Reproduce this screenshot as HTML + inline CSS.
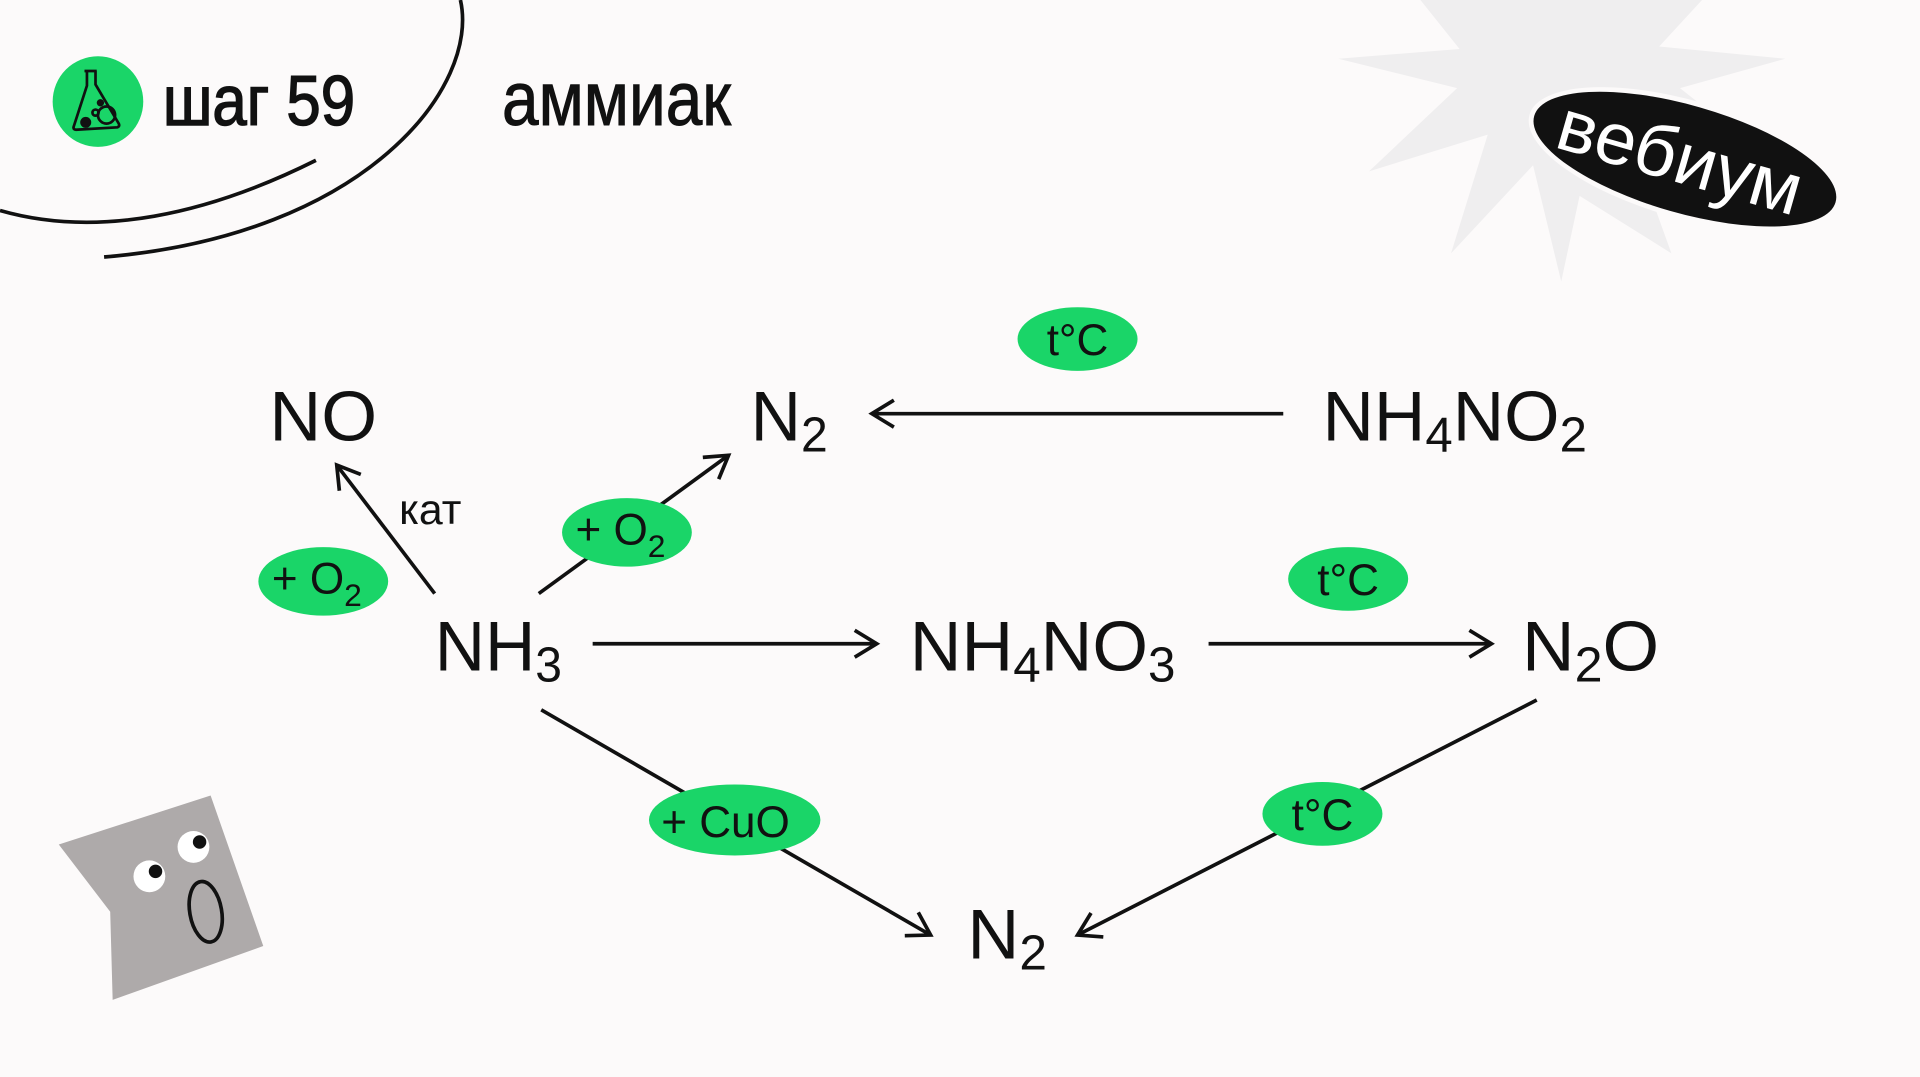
<!DOCTYPE html>
<html><head><meta charset="utf-8"><style>
html,body{margin:0;padding:0;background:#fcfafa;}
svg{display:block;}
text{font-family:"Liberation Sans",sans-serif;fill:#111;}
</style></head><body>
<svg width="1920" height="1077" viewBox="0 0 1568 880" preserveAspectRatio="none" xmlns="http://www.w3.org/2000/svg">
<defs>
<marker id="ah" markerUnits="userSpaceOnUse" viewBox="-22 -14 26 28" refX="0" refY="0" markerWidth="26" markerHeight="28" orient="auto">
<path d="M-18,-11 L0,0 L-18,11" fill="none" stroke="#111" stroke-width="3" stroke-linejoin="miter"/>
</marker>
</defs>
<rect width="1568" height="880" fill="#fcfafa"/>

<!-- star burst -->
<polygon fill="#efeeef" points="1160,0 1192,40 1093,48 1190,72 1118,140 1215,110 1185,207 1252,135 1275,230 1290,160 1365,207 1330,110 1458,140 1372,72 1458,48 1355,38 1390,0"/>

<!-- badge -->
<g transform="rotate(16 1376 130)">
<ellipse cx="1376" cy="130" rx="132" ry="48" fill="#fcfafa"/>
<ellipse cx="1376" cy="130" rx="128" ry="44" fill="#111"/>
<text x="1372" y="150" text-anchor="middle" font-size="60" style="fill:#fff" textLength="205" lengthAdjust="spacingAndGlyphs">вебиум</text>
</g>

<!-- arcs -->
<path d="M376,0 C392,70 300,192 85,210" fill="none" stroke="#111" stroke-width="3"/>
<path d="M0,172 C80,195 170,175 258,131" fill="none" stroke="#111" stroke-width="3"/>

<!-- logo -->
<circle cx="80" cy="83" r="37" fill="#1ad568"/>
<g fill="none" stroke="#111" stroke-width="2.2">
<path d="M69,58 L79,58 M71,58 L71,70 L60,104 Q60,106 62,106 L96,104 Q98,103 97,101 L78,69 L78,58"/>
<circle cx="87" cy="94" r="7"/>
<circle cx="78" cy="92" r="2.5"/>
</g>
<circle cx="70" cy="100" r="4.5" fill="#111"/>
<circle cx="82" cy="84" r="3" fill="#111"/>

<text x="133" y="102" font-size="58" stroke="#111" stroke-width="1.2" textLength="157" lengthAdjust="spacingAndGlyphs">шаг 59</text>
<text x="410" y="102" font-size="62" stroke="#111" stroke-width="0.8" textLength="187" lengthAdjust="spacingAndGlyphs">аммиак</text>

<!-- character -->
<polygon fill="#aeaaaa" points="48,690 172,650 215,773 92,817 90,745"/>
<circle cx="122" cy="716" r="13" fill="#fff"/>
<circle cx="127" cy="712" r="5.5" fill="#111"/>
<circle cx="158" cy="692" r="13" fill="#fff"/>
<circle cx="163" cy="688" r="5.5" fill="#111"/>
<ellipse cx="168" cy="745" rx="13" ry="25" transform="rotate(-10 168 745)" fill="none" stroke="#111" stroke-width="3"/>

<!-- arrows -->
<g stroke="#111" stroke-width="3" fill="none">
<line x1="1048" y1="338" x2="712" y2="338" marker-end="url(#ah)"/>
<line x1="355" y1="485" x2="275" y2="380" marker-end="url(#ah)"/>
<line x1="440" y1="485" x2="595" y2="372" marker-end="url(#ah)"/>
<line x1="484" y1="526" x2="716" y2="526" marker-end="url(#ah)"/>
<line x1="987" y1="526" x2="1218" y2="526" marker-end="url(#ah)"/>
<line x1="442" y1="580" x2="760" y2="764" marker-end="url(#ah)"/>
<line x1="1255" y1="572" x2="880" y2="764" marker-end="url(#ah)"/>
</g>

<!-- green labels -->
<g fill="#1ad568">
<ellipse cx="880" cy="277" rx="49" ry="26"/>
<ellipse cx="512" cy="435" rx="53" ry="28"/>
<ellipse cx="264" cy="475" rx="53" ry="28"/>
<ellipse cx="1101" cy="473" rx="49" ry="26"/>
<ellipse cx="600" cy="670" rx="70" ry="29"/>
<ellipse cx="1080" cy="665" rx="49" ry="26"/>
</g>
<g font-size="36">
<text x="880" y="290" text-anchor="middle">t°C</text>
<text x="1101" y="486" text-anchor="middle">t°C</text>
<text x="1080" y="678" text-anchor="middle">t°C</text>
<text x="470" y="445">+ O<tspan font-size="26" dy="10">2</tspan></text>
<text x="222" y="485">+ O<tspan font-size="26" dy="10">2</tspan></text>
<text x="540" y="684">+ CuO</text>
<text x="326" y="428" font-size="35">кат</text>
</g>

<!-- formulas -->
<g font-size="58">
<text x="220" y="360" textLength="88" lengthAdjust="spacingAndGlyphs">NO</text>
<text x="613" y="360" textLength="63" lengthAdjust="spacingAndGlyphs">N<tspan font-size="40" dy="9">2</tspan></text>
<text x="1080" y="360" textLength="216" lengthAdjust="spacingAndGlyphs">NH<tspan font-size="40" dy="9">4</tspan><tspan dy="-9">NO</tspan><tspan font-size="40" dy="9">2</tspan></text>
<text x="355" y="548" textLength="104" lengthAdjust="spacingAndGlyphs">NH<tspan font-size="40" dy="9">3</tspan></text>
<text x="743" y="548" textLength="217" lengthAdjust="spacingAndGlyphs">NH<tspan font-size="40" dy="9">4</tspan><tspan dy="-9">NO</tspan><tspan font-size="40" dy="9">3</tspan></text>
<text x="1243" y="548" textLength="112" lengthAdjust="spacingAndGlyphs">N<tspan font-size="40" dy="9">2</tspan><tspan dy="-9">O</tspan></text>
<text x="790" y="783" textLength="65" lengthAdjust="spacingAndGlyphs">N<tspan font-size="40" dy="9">2</tspan></text>
</g>
</svg>
</body></html>
